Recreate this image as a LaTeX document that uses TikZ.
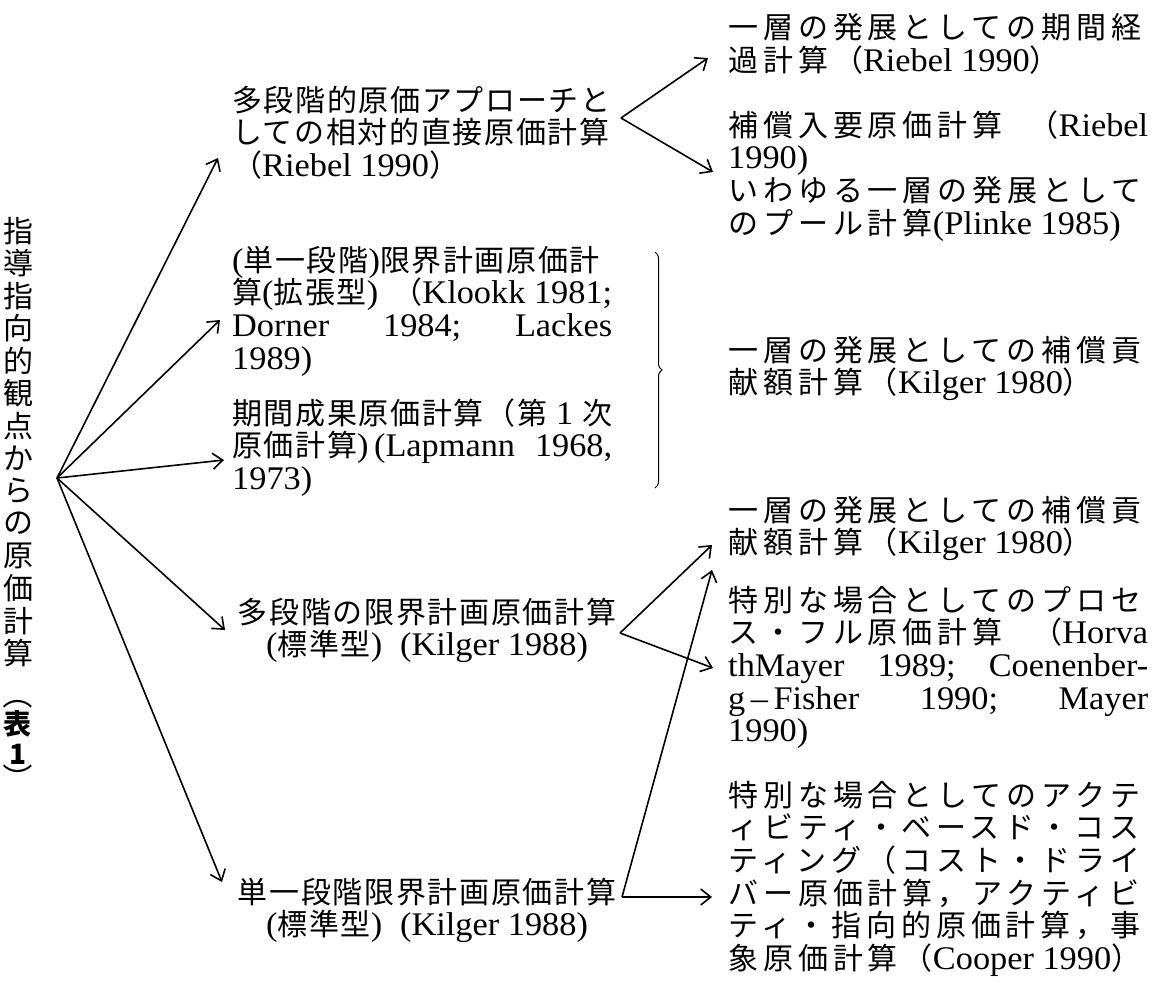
\documentclass[tikz,border=0pt]{standalone}
\usepackage{fontspec}
\setmainfont{Liberation Serif}[Scale=1.1,FakeStretch=1.04]
\newfontfamily\jpL[LetterSpace=5.5]{Noto Sans CJK JP}
\newfontfamily\jpR[LetterSpace=16.5]{Noto Sans CJK JP}
\newfontfamily\jpV{Noto Sans CJK JP}
\usetikzlibrary{arrows.meta,decorations.pathreplacing}
\newcommand\jpcur{\jpL}
\newcommand\J[1]{{\jpcur #1}}
\newcommand\blk[1]{\vtop{\baselineskip=32.7pt\lineskiplimit=-100pt\lineskip=0pt\halign{##\hfil\cr#1\crcr}}}
\newcommand\blkc[1]{\vtop{\baselineskip=32.7pt\lineskiplimit=-100pt\lineskip=0pt\halign{\hfil##\hfil\cr#1\crcr}}}
\newcommand\LW[1]{\hbox to 380pt{#1}}
\newcommand\RW[1]{\hbox to 420pt{#1}}
\tikzset{
  txt/.style={inner sep=0pt, anchor=base west, font=\fontsize{30}{32.7}\selectfont},
  ctxt/.style={inner sep=0pt, anchor=base, font=\fontsize{30}{32.7}\selectfont},
  rtxt/.style={inner sep=0pt, anchor=base west, font={\fontsize{30}{32.7}\selectfont\renewcommand\jpcur{\jpR}}},
  vch/.style={inner sep=0pt, font={\fontsize{30}{30}\jpV}},
  vbold/.style={inner sep=0pt, font={\fontsize{28}{28}\jpV\bfseries}},
  arr/.style={line width=1.6pt, -{Straight Barb[length=10pt,width=16pt]}},
}
\begin{document}
\begin{tikzpicture}[x=1pt,y=-1pt]
\useasboundingbox (0,0) rectangle (1155,982);
% vertical title
\foreach \c [count=\i from 0] in {指,導,指,向,的,観,点,か,ら,の,原,価,計,算}
  \node[vch] (v\i) at (18,231+32.5*\i) {\c};
\node[vch, rotate=-90] (vpa) at (18,694) {（};
\node[vbold] (vbo) at (18,724) {表};
\node[vbold] (vone) at (18,754) {1};
\node[vch, rotate=-90] (vpb) at (18,778) {）};
% left column
\node[txt] (A) at (232,111) {\blk{\J{多段階的原価アプローチと}\cr
\J{しての相対的直接原価計算}\cr
\J{（}Riebel 1990\J{）}}};
\node[txt] (B) at (232,271) {\blk{(\J{単一段階})\J{限界計画原価計}\cr
\LW{\J{算}(\J{拡張型})\hfil\J{（}Klookk 1981;}\cr
\LW{Dorner\hfill 1984;\hfill Lackes}\cr
1989)}};
\node[txt] (C) at (232,424) {\blk{\LW{\J{期間成果原価計算（第}\hfil 1\hfil\J{次}}\cr
\LW{\J{原価計算})\,(Lapmann\hfil 1968,}\cr
1973)}};
\node[ctxt] (E) at (427,623) {\blkc{\J{多段階の限界計画原価計算}\cr
(\J{標準型})\hspace{18pt}(Kilger 1988)}};
\node[ctxt] (F) at (427,903) {\blkc{\J{単一段階限界計画原価計算}\cr
(\J{標準型})\hspace{18pt}(Kilger 1988)}};
% right column
\node[rtxt] (R1) at (728,39) {\blk{\J{一層の発展としての期間経}\cr
\J{過計算（}Riebel 1990\J{）}}};
\node[rtxt] (R2) at (728,136) {\blk{\RW{\J{補償入要原価計算}\hfil\J{（}Riebel}\cr
1990)\cr
\J{いわゆる一層の発展として}\cr
\J{のプール計算}(Plinke 1985)}};
\node[rtxt] (R3) at (728,361) {\blk{\J{一層の発展としての補償貢}\cr
\J{献額計算（}Kilger 1980\J{）}}};
\node[rtxt] (R4) at (728,521) {\blk{\J{一層の発展としての補償貢}\cr
\J{献額計算（}Kilger 1980\J{）}}};
\node[rtxt] (R5) at (728,611) {\blk{\J{特別な場合としてのプロセ}\cr
\RW{\J{ス・フル原価計算}\hfil\J{（}Horva}\cr
\RW{thMayer\hfil 1989;\hfil Coenenber-}\cr
\RW{g\,--\,Fisher\hfill 1990;\hfill Mayer}\cr
1990)}};
\node[rtxt] (R6) at (728,806) {\blk{\J{特別な場合としてのアクテ}\cr
\J{ィビティ・ベースド・コス}\cr
\J{ティング（コスト・ドライ}\cr
\J{バー原価計算，アクティビ}\cr
\J{ティ・指向的原価計算，事}\cr
\J{象原価計算（}Cooper 1990\J{）}}};
% connector points
\coordinate (root) at (57,478);
\coordinate (tA) at (218,158);
\coordinate (tB) at (220,320);
\coordinate (tC) at (224,460);
\coordinate (tE) at (225,630);
\coordinate (tF) at (222,882);
\coordinate (pA) at (621,118);
\coordinate (tR1) at (708,58);
\coordinate (tR2) at (713,172);
\coordinate (pE) at (620,633);
\coordinate (tR4) at (712,545);
\coordinate (tR5a) at (713,668);
\coordinate (pF) at (622,897);
\coordinate (tR5b) at (712,570);
\coordinate (tR6) at (712,897);
% connectors
\foreach \t in {tA,tB,tC,tE,tF} \draw[arr] (root) -- (\t);
\draw[arr] (pA) -- (tR1);
\draw[arr] (pA) -- (tR2);
\draw[arr] (pE) -- (tR4);
\draw[arr] (pE) -- (tR5a);
\draw[arr] (pF) -- (tR5b);
\draw[arr] (pF) -- (tR6);
% brace
\draw[line width=1pt, decorate, decoration={brace, amplitude=7pt}] (655,252) -- (655,488);
\end{tikzpicture}
\end{document}
